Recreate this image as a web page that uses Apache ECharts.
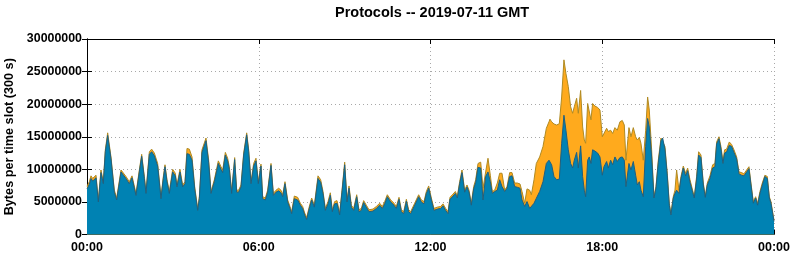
<!DOCTYPE html>
<html>
<head>
<meta charset="utf-8">
<script src="https://cdn.jsdelivr.net/npm/echarts@6/dist/echarts.min.js"></script>
<style>
html,body{margin:0;padding:0;background:#fff;}
#chart{width:795px;height:260px;}
</style>
</head>
<body>
<div id="chart"></div>
<script>
// time of each sample, minutes after 00:00 GMT
const times = [
0,4.9,8.4,11.9,15.4,18.9,23.8,29.3,34.2,38.4,43.3,50.3,57.3,62.2,65.7,71.3,74.8,81.7,88.7,94.3,
102.7,109.7,114.6,120.2,123.7,130.7,135.5,141.1,148.1,155.1,160,163.5,167.7,172.6,179.6,185.1,188.6,194.9,200.5,205.4,
209.6,214.5,220.1,225.7,232,235.5,241,249.4,255,260,266.9,275.3,280.9,284.4,290,294.8,298.3,303.2,309.5,313.7,
317.9,322.8,328.4,334.7,338.9,343.8,349.3,354.2,359.1,364.7,368.2,373.8,378.7,385.7,390.6,396.2,401.8,406.6,410.1,415,
420.6,425.5,429,434.6,441.6,447.2,452,456.3,460.4,466,470.9,476.5,
484.2,489.8,494.7,499.6,505.2,510,514.2,519.1,524,529.6,534.5,540.1,545,549.2,554.1,559,565.3,570.1,575,579.9,
585.5,591.1,599.5,606.5,613.5,619,624,629.5,636.5,643.5,648.4,654,658.9,663.8,669.4,674.2,678.4,686.8,695.2,700.8,
706.4,711.3,716.2,721.8,727.3,734.3,741.3,746.2,751.8,756.7,760.9,767.2,772.1,776.3,781.1,786,791.6,796.5,800.7,805.6,
810.5,814.7,819.6,825.2,830.1,835.6,840.5,845.4,849.6,854.5,860.1,865,869.9,875.5,880.4,886,890.8,896.4,902,907.6,
911.8,917.4,922.3,927.9,931.4,937,941.8,948.8,955.8,962.8,968.4,
970.4,973.9,978.8,984.4,990,994.9,999.7,1003.9,1008.8,1013.7,1017.9,1021.4,1026.3,1029.8,1034.7,1038.9,1042.4,1045.2,1049.4,1052.8,
1056.3,1059.8,1064.7,1070.3,1075.2,1080.1,1083.6,1089.2,1092.7,1097.6,1101.8,1106.6,1111.5,1117.1,1122,1126.2,1129.7,1136,1140.2,1145.1,
1150,1153.5,1157.7,1161.1,1166,1171,1175.1,1178.6,1183.5,1188.4,1192.6,1197.5,1203.1,1206.6,1211.4,1216.3,1220.5,1224,1228.9,1232.4,
1235.9,1240.8,1245,1249.9,1254.8,1259,1263.9,1269.4,1272.9,1277.8,1282,1286.9,1291.8,1296,1300.2,1305.8,1311.4,1316.2,1319.8,1324.6,
1328.8,1333,1336.5,1340.7,1346.3,1351.2,1356.1,1361.7,1366.6,1372.2,1377,1382.6,1387.5,1391.7,1396.6,1401.5,1405.7,1410.6,1415.5,1421,
1426,1430.2,1433.6,1437.1,1440
];
// total bytes per slot (top of orange), millions
const totalMB = [
7.4,8.1,9.0,8.6,8.4,9.1,5.3,9.9,8.1,13.0,15.6,11.9,6.8,5.6,5.4,9.9,9.8,8.9,8.1,9.0,
6.3,9.9,12.3,8.9,6.6,12.7,13.1,12.5,10.9,5.8,8.9,10.7,8.4,6.6,10.0,9.4,7.6,10.0,7.6,8.1,
13.2,13.1,11.9,7.35,4.0,5.8,13.0,14.8,11.4,6.6,8.4,11.3,10.4,9.9,12.6,11.7,10.4,6.6,11.8,6.8,
6.8,7.6,12.5,15.6,13.0,8.1,10.9,11.7,8.1,10.8,5.8,5.6,6.8,10.9,6.3,6.8,7.1,6.8,6.1,8.1,
5.3,4.3,3.5,5.9,5.7,4.8,4.3,3.3,2.6,4.3,5.6,4.5,
9.0,8.4,6.6,4.0,5.05,6.4,3.8,5.05,5.2,3.3,6.8,11.1,5.3,7.45,4.5,4.0,6.1,3.8,4.0,5.2,
4.5,3.8,3.9,4.3,4.8,4.3,5.05,6.1,5.3,4.8,4.3,5.7,3.8,3.5,5.4,3.8,3.5,4.8,6.1,5.3,
5.05,6.6,7.45,5.6,4.0,4.2,4.3,4.7,4.0,3.5,5.7,6.2,6.6,5.9,8.1,9.9,6.8,7.6,6.8,4.8,
7.35,8.4,10.9,11.1,7.1,9.6,11.7,9.1,6.6,6.8,7.9,9.4,9.4,6.8,7.35,9.5,9.5,7.9,7.9,7.75,
6.6,4.8,7.0,6.8,6.1,8.4,10.9,11.9,13.5,16.3,17.3,
17.7,17.3,16.96,16.8,17.0,21.1,26.8,24.7,22.7,19.6,18.6,19.6,20.9,18.6,22.1,16.5,14.5,14.0,20.1,20.2,
17.6,20.1,19.7,19.5,19.1,15.0,15.3,16.3,15.8,16.0,15.5,16.4,16.0,17.3,17.5,16.8,11.4,16.4,15.0,16.4,
15.0,14.5,14.9,14.0,11.4,16.0,21.1,19.1,13.0,5.8,7.35,11.4,14.8,15.1,13.5,9.4,4.8,3.3,5.8,6.8,
9.9,6.8,8.9,10.5,9.4,10.2,8.4,6.8,5.8,8.9,12.7,12.2,7.9,5.9,7.9,9.0,10.7,10.9,14.2,15.0,
13.5,11.2,13.0,13.1,14.2,13.8,13.0,11.9,9.6,9.5,9.3,9.9,10.4,7.9,5.05,5.8,4.8,6.6,7.9,9.1,
8.9,5.8,5.05,5.05,2.2
];
// blue protocol bytes per slot, millions
const blueMB = [
7.0,7.7,8.6,8.2,8.0,8.7,5.0,9.5,7.8,12.7,15.2,11.6,6.5,5.3,5.1,9.6,9.5,8.6,7.8,8.7,
6.0,9.6,12.0,8.6,6.3,12.3,12.7,12.1,10.5,5.5,8.6,10.4,8.1,6.3,9.6,9.0,7.3,9.6,7.3,7.8,
12.4,12.3,11.4,7.0,3.7,5.5,12.6,14.4,11.0,6.3,8.1,10.9,10.0,9.5,12.2,11.3,10.0,6.3,11.5,6.5,
6.5,7.3,12.2,15.3,12.7,7.8,10.5,11.3,7.8,10.5,5.5,5.3,6.5,10.6,6.0,6.5,6.7,6.4,5.8,7.8,
5.0,4.0,3.2,5.5,5.3,4.5,4.0,3.0,2.3,4.0,5.3,4.2,
8.6,8.0,6.3,3.7,4.7,6.0,3.5,4.7,4.8,3.0,6.5,10.7,5.0,7.1,4.2,3.7,5.8,3.5,3.7,4.9,
4.2,3.5,3.6,4.0,4.5,4.0,4.7,5.8,5.0,4.5,4.0,5.4,3.5,3.2,5.1,3.5,3.2,4.5,5.8,5.0,
4.7,6.3,7.1,5.3,3.7,3.9,4.0,4.4,3.7,3.2,5.4,5.9,6.3,5.6,7.8,9.5,6.5,7.3,6.5,4.5,
7.0,8.0,10.3,10.2,5.3,8.9,9.6,8.1,6.3,6.6,6.8,8.4,7.35,6.6,7.1,8.9,9.0,7.35,7.25,7.1,
5.3,4.3,5.05,4.0,3.8,4.8,5.55,6.6,8.1,10.9,11.4,
11.7,10.7,8.9,8.4,8.5,14.0,18.3,16.0,13.0,10.9,10.2,11.4,12.6,10.2,13.6,8.9,6.8,5.8,11.4,11.9,
10.9,13.0,12.8,12.5,11.9,9.1,10.4,11.2,10.2,11.4,10.7,11.9,11.2,11.8,11.9,11.4,7.35,10.9,9.9,11.2,
9.1,7.6,8.1,6.8,5.8,13.5,17.8,16.5,11.9,5.6,7.1,11.0,14.4,14.8,13.1,9.0,4.5,3.0,5.6,6.3,
6.8,6.3,8.6,10.2,9.0,9.8,8.0,6.5,5.6,8.5,12.2,11.8,7.6,5.7,7.6,8.6,10.2,10.4,13.9,14.7,
13.1,10.9,12.5,12.7,13.7,13.5,12.6,11.6,9.3,9.1,9.0,9.6,10.1,7.6,4.8,5.6,4.5,6.3,7.6,8.9,
8.6,5.6,4.8,4.8,2.0
];
const xTickLabels = ['00:00', '06:00', '12:00', '18:00', '00:00'];
const yMin = 0, yMax = 30000000, yStep = 5000000;
const titleText = 'Protocols -- 2019-07-11 GMT';
const yTitle = 'Bytes per time slot (300 s)';

const FONT = '"Liberation Sans", Arial, sans-serif';
const chart = echarts.init(document.getElementById('chart'), null, {renderer: 'canvas'});
const toPairs = arr => times.map((t, i) => [t, arr[i] * 1e6]);

const gridLine = {show: true, lineStyle: {color: '#a8a8a8', width: 1, type: [1, 3]}};
chart.setOption({
  animation: false,
  backgroundColor: '#ffffff',
  title: {
    text: titleText, left: 335, top: 5, padding: 0,
    textStyle: {fontFamily: FONT, fontWeight: 'bold', fontSize: 14.5, color: '#000'}
  },
  grid: {left: 87, right: 21, top: 39, bottom: 25.5, containLabel: false, outerBoundsMode: 'none'},
  xAxis: [{
    type: 'value', min: 0, max: 1440, interval: 360, position: 'bottom',
    axisLine: {show: true, onZero: false, lineStyle: {color: '#000', width: 1}},
    axisTick: {show: true, inside: true, length: 5, lineStyle: {color: '#000'}},
    axisLabel: {
      margin: 7, color: '#000', fontFamily: FONT, fontWeight: 'bold', fontSize: 12.5,
      formatter: v => xTickLabels[Math.round(v / 360)]
    },
    splitLine: gridLine
  }, {
    type: 'value', min: 0, max: 1440, interval: 360, position: 'top',
    axisLine: {show: true, onZero: false, lineStyle: {color: '#000', width: 1}},
    axisTick: {show: true, inside: true, length: 5, lineStyle: {color: '#000'}},
    axisLabel: {show: false}, splitLine: {show: false}
  }],
  yAxis: [{
    type: 'value', min: yMin, max: yMax, interval: yStep, position: 'left',
    name: yTitle, nameLocation: 'middle', nameGap: 63, nameRotate: 90,
    nameTextStyle: {fontFamily: FONT, fontWeight: 'bold', fontSize: 12.7, color: '#000'},
    axisLine: {show: true, lineStyle: {color: '#000', width: 1}},
    axisTick: {show: true, inside: true, length: 5, lineStyle: {color: '#000'}},
    axisLabel: {margin: 5, color: '#000', fontFamily: FONT, fontWeight: 'bold', fontSize: 12.4,
      formatter: v => String(v)},
    splitLine: gridLine
  }, {
    type: 'value', min: yMin, max: yMax, interval: yStep, position: 'right',
    axisLine: {show: true, lineStyle: {color: '#000', width: 1}},
    axisTick: {show: true, inside: true, length: 5, lineStyle: {color: '#000'}},
    axisLabel: {show: false}, splitLine: {show: false}
  }],
  series: [{
    name: 'other', type: 'line', data: toPairs(totalMB), symbol: 'none', smooth: false,
    lineStyle: {color: '#b08a22', width: 1},
    areaStyle: {color: '#ffaa1d', opacity: 1}, z: 2
  }, {
    name: 'blue', type: 'line', data: toPairs(blueMB), symbol: 'none', smooth: false,
    lineStyle: {color: '#1f5f80', width: 1},
    areaStyle: {color: '#0082b3', opacity: 1}, z: 3
  }]
});
</script>
</body>
</html>
